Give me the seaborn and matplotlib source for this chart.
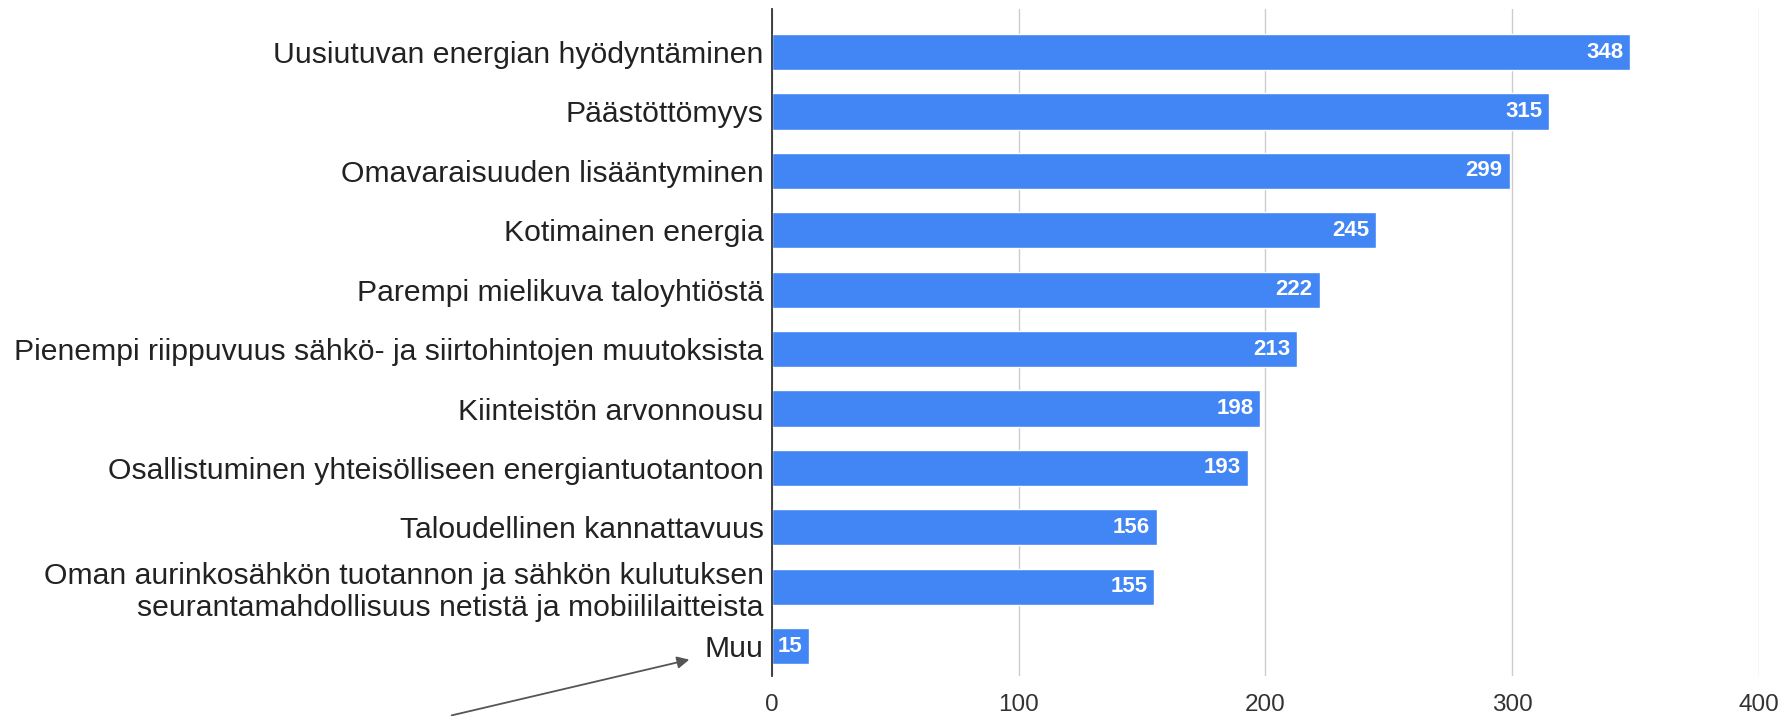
import pandas as pd
import numpy as np
import matplotlib.pyplot as plt
import seaborn as sns

# === Data ===
categories = [
    "Uusiutuvan energian hyödyntäminen",
    "Päästöttömyys",
    "Omavaraisuuden lisääntyminen",
    "Kotimainen energia",
    "Parempi mielikuva taloyhtiöstä",
    "Pienempi riippuvuus sähkö- ja siirtohintojen muutoksista",
    "Kiinteistön arvonnousu",
    "Osallistuminen yhteisölliseen energiantuotantoon",
    "Taloudellinen kannattavuus",
    "Oman aurinkosähkön tuotannon ja sähkön kulutuksen\nseurantamahdollisuus netistä ja mobiililaitteista",
    "Muu",
]
counts = [348, 315, 299, 245, 222, 213, 198, 193, 156, 155, 15]
x_ticks = [0, 100, 200, 300, 400]

df = pd.DataFrame({"Category": categories, "Count": counts})

sns.set_style("white")
plt.rcParams["font.family"] = ["Liberation Sans", "DejaVu Sans"]

fig = plt.figure(figsize=(17.91, 7.16), dpi=100)
ax = fig.add_axes([0.431, 0.056, 0.551, 0.931])

sns.barplot(data=df, x="Count", y="Category", orient="h", color="#4285F4",
            width=0.61, saturation=1, ax=ax, zorder=3)

# value labels inside bar ends
for i, v in enumerate(counts):
    ax.annotate(str(v), xy=(v, i), xytext=(-5, 0), textcoords="offset points",
                ha="right", va="center", color="white", fontsize=16,
                fontweight="bold", zorder=4)

ax.set_xlim(0, 400)
ax.set_ylim(10.5, -0.72)
ax.set_xticks(x_ticks)
ax.set_xlabel("")
ax.set_ylabel("")
ax.grid(axis="x", color="#cccccc", linewidth=1, zorder=0)
ax.tick_params(axis="both", length=0)
ax.tick_params(axis="x", labelsize=17.5, pad=13, colors="#333333")
ax.tick_params(axis="y", labelsize=21.7, pad=6, colors="#222222")
for lbl in ax.get_yticklabels():
    lbl.set_multialignment("right")
for s in ["top", "right", "bottom"]:
    ax.spines[s].set_visible(False)
ax.spines["left"].set_color("#333333")
ax.spines["left"].set_linewidth(1.3)
ax.spines["left"].set_zorder(5)

# arrow pointing at "Muu"
fig.patches.append(plt.matplotlib.patches.FancyArrowPatch(
    (449 / 1791, 0.0), (692 / 1791, 1 - 659 / 716),
    transform=fig.transFigure, arrowstyle="-|>", mutation_scale=18,
    color="#555555", linewidth=1.3))

plt.savefig("out.png", dpi=100)
